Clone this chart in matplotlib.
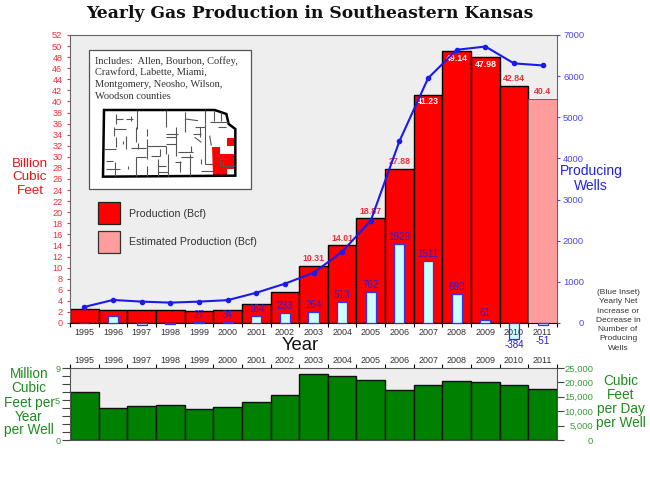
import numpy as np
import matplotlib
matplotlib.use('Agg')
import matplotlib.pyplot as plt
from matplotlib.patches import Rectangle, Polygon

plt.rcParams['font.family'] = ['Liberation Sans', 'DejaVu Sans']

W, H = 650, 487
RED = '#ff0000'
RED_T = '#e8323c'
BLUE = '#1a1aee'
BLUE_T = '#4a4ae0'
BLUE_L = '#2a1ee0'
GREEN = '#008000'
GREEN_T = '#3a9a3a'
GRAY = '#eeeeee'
DARK = '#333333'

years = np.arange(1995, 2012)
prod = [2.5, 2.3, 2.4, 2.4, 2.1, 2.3, 3.5, 5.6, 10.31, 14.01, 18.87, 27.88, 41.23, 49.14, 47.98, 42.84, 40.4]
wells = [390, 560, 520, 495, 520, 555, 735, 955, 1220, 1733, 2490, 4420, 5950, 6640, 6720, 6310, 6260]
net = [0, 178, -45, -20, 27, 34, 164, 233, 264, 513, 762, 1929, 1511, 693, 61, -384, -51]
per_day = [16500, 11050, 11860, 12200, 10800, 11400, 13250, 15700, 23000, 22200, 20800, 17300, 19200, 20600, 20000, 19200, 17800]
per_year = [d * 360 / 1e6 for d in per_day]

edges = np.arange(1994.5, 2012)


def px_axes(x0, y0, x1, y1, **kw):
    return fig.add_axes([x0 / W, 1 - y1 / H, (x1 - x0) / W, (y1 - y0) / H], **kw)


def px_text(x, y, s, **kw):
    kw.setdefault('ha', 'center')
    kw.setdefault('va', 'center')
    fig.text(x / W, 1 - y / H, s, **kw)


fig = plt.figure(figsize=(6.5, 4.87), dpi=100)

# main chart
ax = px_axes(70, 35, 557, 323)
ax.set_facecolor(GRAY)
ax.bar(years[:-1], prod[:-1], width=1, color=RED, edgecolor='black', linewidth=1, zorder=2)
ax.bar(years[-1], prod[-1], width=1, color='#ff9c9c', edgecolor='#555555', linewidth=0.6, zorder=2)
ax.set_xlim(1994.5, 2011.5)
ax.set_ylim(0, 52)
ax.set_yticks(range(0, 54, 2))
ax.tick_params(axis='y', colors=RED_T, labelsize=6.6, length=2.5, width=0.8, pad=3)
ax.set_xticks(edges)
ax.set_xticklabels([])
ax.tick_params(axis='x', which='major', length=3, width=0.8, color='black')
for s in ['top', 'left', 'right']:
    ax.spines[s].set_color('#666666')
ax.spines['bottom'].set_color('black')

# value labels, white where they sit inside the bar
for y, v in zip(years[8:], prod[8:]):
    if y in (2007, 2008, 2009):
        ax.text(y, v - 0.5, str(v), color='white', fontsize=6.3, fontweight='bold', ha='center', va='top', zorder=6)
    else:
        ax.text(y, v + 0.5, str(v), color=RED_T, fontsize=6.3, fontweight='bold', ha='center', va='bottom', zorder=6)

ax2 = ax.twinx()
ax2.set_ylim(0, 7000)
ax2.set_yticks(range(0, 8000, 1000))
ax2.tick_params(axis='y', colors=BLUE_T, labelsize=6.8, length=2.5, width=0.8, pad=17)
for lab in ax2.get_yticklabels():
    lab.set_ha('right')
for s in ax2.spines.values():
    s.set_visible(False)

# blue inset of yearly net change
ax2.bar(years, net, width=0.35, color='#ccffff', edgecolor='#3333ee', linewidth=0.9, zorder=3, clip_on=False)
# year row goes on the twin so it stays over the bars hanging below zero
for y in years:
    ax2.annotate(str(y), (y, 0), xycoords=('data', 'axes fraction'), xytext=(0, -6.5), textcoords='offset points',
                 fontsize=6.5, color=DARK, ha='center', va='center', zorder=7, annotation_clip=False)
for y, n in zip(years, net):
    if abs(n) < 27 or n in (178, -45):
        continue
    if n > 0:
        ax2.text(y, n + 50, str(n), color=BLUE_L, fontsize=7.1, ha='center', va='bottom', zorder=6)
    elif n == -51:
        ax2.text(y, -315, str(n), color=BLUE_L, fontsize=7.1, ha='center', va='top', zorder=6, clip_on=False)
    else:
        ax2.text(y, n - 30, str(n), color=BLUE_L, fontsize=7.1, ha='center', va='top', zorder=6, clip_on=False)
ax2.plot(years, wells, color=BLUE, linewidth=1.5, marker='o', markersize=3, zorder=5)

# lower chart
low = px_axes(70, 368, 557, 440)
low.set_facecolor(GRAY)
low.bar(years, per_year, width=1, color=GREEN, edgecolor='#111111', linewidth=1, zorder=2)
low.set_xlim(1994.5, 2011.5)
low.set_ylim(0, 9)
low.set_yticks(range(0, 10))
low.set_yticklabels(['0', '', '', '', '', '5', '', '', '', '9'])
low.tick_params(axis='y', colors=GREEN_T, labelsize=6.6, length=5.5, width=0.8, pad=1.5)
low.tick_params(axis='y', color='#444444')
low.xaxis.tick_top()
low.set_xticks(edges)
low.set_xticklabels([])
low.set_xticks(years, minor=True)
low.set_xticklabels(years, minor=True, fontsize=6.5, color=DARK)
low.tick_params(axis='x', which='major', top=True, length=3, width=0.8, color='black')
low.tick_params(axis='x', which='minor', top=False, length=0, pad=2.5)
for s in low.spines.values():
    s.set_color('#555555')

low2 = low.twinx()
low2.set_ylim(0, 25000)
low2.set_yticks(range(0, 30000, 5000))
low2.set_yticklabels(['0', '5,000', '10,000', '15,000', '20,000', '25,000'])
low2.tick_params(axis='y', colors=GREEN_T, labelsize=6.8, length=5, width=0.8, pad=21)
low2.tick_params(axis='y', color='#444444')
for lab in low2.get_yticklabels():
    lab.set_ha('right')
for s in low2.spines.values():
    s.set_visible(False)

# map panel, in the pixel grid of the picture
m = px_axes(0, 0, W, H)
m.set_xlim(0, W)
m.set_ylim(H, 0)
m.axis('off')
m.patch.set_alpha(0)
m.add_patch(Rectangle((89, 50), 162, 139, facecolor='white', edgecolor='#555555', linewidth=0.9))


def mp(pts):
    return [(98 + x / 3, 104 + y / 3) for x, y in pts]


outline = [(18, 18), (350, 18), (385, 30), (392, 60), (412, 75), (412, 215), (15, 218)]
red_area = [(342, 128), (365, 128), (365, 150), (412, 150), (412, 195), (388, 195), (388, 215), (345, 215)]
red_small = [(387, 103), (408, 103), (408, 125), (387, 125)]
m.add_patch(Polygon(mp(red_area), facecolor=RED, edgecolor='none'))
m.add_patch(Polygon(mp(red_small), facecolor=RED, edgecolor='none'))
county_lines = [
    (118, 18, 118, 75), (205, 18, 205, 70), (262, 25, 262, 85), (322, 18, 322, 60), (348, 18, 348, 50), (368, 25, 368, 50),
    (55, 30, 55, 60), (55, 45, 75, 45), (85, 45, 105, 45), (100, 35, 100, 50), (48, 70, 48, 95), (48, 75, 85, 75),
    (85, 95, 85, 135), (55, 100, 55, 130), (18, 135, 55, 135), (75, 110, 75, 120), (115, 70, 115, 115),
    (100, 133, 145, 133), (120, 118, 120, 135), (148, 75, 148, 95), (148, 105, 148, 165), (148, 125, 205, 125),
    (205, 125, 205, 150), (160, 155, 185, 155), (185, 135, 185, 155), (205, 90, 240, 90), (205, 100, 235, 100),
    (235, 70, 235, 155), (205, 120, 235, 120), (240, 145, 285, 145), (250, 158, 285, 158), (280, 125, 280, 145),
    (262, 45, 300, 50), (290, 70, 320, 70), (285, 90, 310, 90), (290, 100, 310, 115), (305, 70, 305, 100),
    (320, 60, 320, 180), (335, 55, 390, 55), (360, 70, 385, 70), (335, 95, 340, 125), (115, 160, 115, 215),
    (115, 160, 145, 160), (50, 175, 50, 215), (25, 170, 45, 170), (25, 195, 65, 195), (90, 185, 90, 195),
    (148, 185, 148, 215), (180, 165, 180, 215), (180, 185, 205, 185), (210, 150, 210, 215), (180, 205, 210, 205),
    (245, 170, 245, 205), (230, 175, 250, 175), (275, 150, 275, 215), (310, 200, 345, 200), (310, 165, 310, 180),
    (320, 180, 345, 180), (365, 165, 390, 165), (365, 165, 365, 185), (375, 170, 375, 185), (365, 185, 410, 185),
]
for x0, y0, x1, y1 in county_lines:
    (a, b), (c, d) = mp([(x0, y0), (x1, y1)])
    m.plot([a, c], [b, d], color='#555555', linewidth=0.8, solid_capstyle='butt')
m.add_patch(Polygon(mp(outline), closed=True, fill=False, edgecolor='black', linewidth=1.8))

m.add_patch(Rectangle((98, 202), 22, 22, facecolor=RED, edgecolor='#222222', linewidth=0.9))
m.add_patch(Rectangle((98, 231), 22, 22, facecolor='#ff9c9c', edgecolor='#333333', linewidth=0.9))

px_text(129, 214, 'Production (Bcf)', ha='left', fontsize=7.7, color=DARK)
px_text(129, 242, 'Estimated Production (Bcf)', ha='left', fontsize=7.7, color=DARK)

for i, line in enumerate(['Includes:  Allen, Bourbon, Coffey,', 'Crawford, Labette, Miami,',
                          'Montgomery, Neosho, Wilson,', 'Woodson counties']):
    px_text(95, 61 + i * 11.7, line, ha='left', fontsize=7.5, color=DARK, family=['Liberation Serif'])

# titles and side labels
px_text(310, 13, 'Yearly Gas Production in Southeastern Kansas', fontsize=12.3, fontweight='bold',
        family=['DejaVu Serif'], color='#111111')
px_text(300, 346, 'Year', fontsize=13.3, color='#111111')

for y, s in zip([164, 177.5, 191], ['Billion', 'Cubic', 'Feet']):
    px_text(30, y, s, fontsize=9.7, color='#e01818')
for y, s in zip([171, 186], ['Producing', 'Wells']):
    px_text(591, y, s, fontsize=10, color='#2222dd')
for y, s in zip([374, 388.5, 403, 417, 430], ['Million', 'Cubic', 'Feet per', 'Year', 'per Well']):
    px_text(29, y, s, fontsize=9.8, color='#1f8a1f')
for y, s in zip([381, 395, 409, 423], ['Cubic', 'Feet', 'per Day', 'per Well']):
    px_text(621, y, s, fontsize=9.8, color='#1f8a1f')
for i, s in enumerate(['(Blue Inset)', 'Yearly Net', 'Increase or', 'Decrease in', 'Number of', 'Producing', 'Wells']):
    px_text(618, 292.5 + i * 9.3, s, fontsize=6, color=DARK)

fig.savefig('out.png', dpi=100)
